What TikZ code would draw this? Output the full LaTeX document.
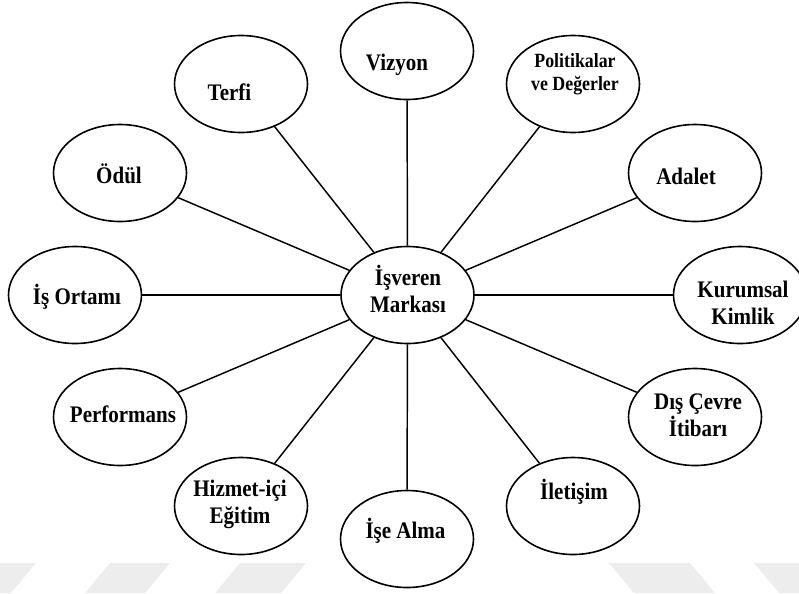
\documentclass[tikz,border=0pt]{standalone}
\usepackage{fontspec}
\setmainfont{Liberation Serif}[FakeStretch=0.885]
\usetikzlibrary{shapes.geometric}

\tikzset{
  elp/.style={draw, ellipse, line width=1.2pt, minimum width=99.75pt, minimum height=72.75pt, inner sep=0pt},
  lnk/.style={line width=1.1pt},
  lbl/.style={font=\fontsize{17.8}{20.3}\selectfont\bfseries, align=center, inner sep=0.75pt},
  lblsmall/.style={font=\fontsize{15.1}{17.3}\selectfont\bfseries, align=center, inner sep=0.75pt},
  wmark/.style={fill=black!7, draw=none}
}

\begin{document}
\begin{tikzpicture}[x=0.75pt,y=0.75pt,yscale=-1,xscale=1]
\useasboundingbox (0,0) rectangle (799,593);

%Watermark bands
\fill [wmark] (0,563) -- (36,563) -- (11,593) -- (0,593) -- cycle ;
\fill [wmark] (110,563) -- (170,563) -- (145,593) -- (85,593) -- cycle ;
\fill [wmark] (240,563) -- (306,563) -- (281,593) -- (215,593) -- cycle ;
\fill [wmark] (609,563) -- (690,563) -- (715,593) -- (634,593) -- cycle ;
\fill [wmark] (754,563) -- (799,563) -- (799,593) -- (779,593) -- cycle ;

%Shape: Ellipse
\node [elp] (marka) at (407.5,295) {};
%Shape: Ellipse
\node [elp] (vizyon) at (407,51) {};
%Shape: Ellipse
\node [elp] (politika) at (573,84) {};
%Shape: Ellipse
\node [elp] (adalet) at (695,173) {};
%Shape: Ellipse
\node [elp] (kurumsal) at (740,295) {};
%Shape: Ellipse
\node [elp] (itibar) at (695,417) {};
%Shape: Ellipse
\node [elp] (iletisim) at (573,506) {};
%Shape: Ellipse
\node [elp] (isealma) at (407,539) {};
%Shape: Ellipse
\node [elp] (hizmet) at (241,506) {};
%Shape: Ellipse
\node [elp] (performans) at (120,417) {};
%Shape: Ellipse
\node [elp] (ortam) at (75,295) {};
%Shape: Ellipse
\node [elp] (odul) at (120,173) {};
%Shape: Ellipse
\node [elp] (terfi) at (241,84) {};

%Straight Lines
\draw [lnk] (marka) -- (vizyon) ;
\draw [lnk] (marka) -- (politika) ;
\draw [lnk] (marka) -- (adalet) ;
\draw [lnk] (marka) -- (kurumsal) ;
\draw [lnk] (marka) -- (itibar) ;
\draw [lnk] (marka) -- (iletisim) ;
\draw [lnk] (marka) -- (isealma) ;
\draw [lnk] (marka) -- (hizmet) ;
\draw [lnk] (marka) -- (performans) ;
\draw [lnk] (marka) -- (ortam) ;
\draw [lnk] (marka) -- (odul) ;
\draw [lnk] (marka) -- (terfi) ;

% Text Node
\node [lbl] (markaT) at (408,289) {İşveren\\Markası};
% Text Node
\node [lbl, anchor=base] (vizyonT) at (397,70) {Vizyon};
% Text Node
\node [lblsmall] (politikaT) at (575,74.5) {Politikalar\\ve Değerler};
% Text Node
\node [lbl, anchor=base] (adaletT) at (686,184) {Adalet};
% Text Node
\node [lbl] (kurumsalT) at (743,303) {Kurumsal\\Kimlik};
% Text Node
\node [lbl] (itibarT) at (698,415.5) {Dış Çevre\\İtibarı};
% Text Node
\node [lbl, anchor=base] (iletisimT) at (574,499) {İletişim};
% Text Node
\node [lbl, anchor=base] (isealmaT) at (405.5,538) {İşe Alma};
% Text Node
\node [lbl] (hizmetT) at (240,504) {Hizmet-içi\\Eğitim};
% Text Node
\node [lbl, anchor=base] (performansT) at (123,422) {Performans};
% Text Node
\node [lbl, anchor=base] (ortamT) at (77,304) {İş Ortamı};
% Text Node
\node [lbl, anchor=base] (odulT) at (119,183) {Ödül};
% Text Node
\node [lbl, anchor=base] (terfiT) at (229.5,100) {Terfi};

\end{tikzpicture}
\end{document}
